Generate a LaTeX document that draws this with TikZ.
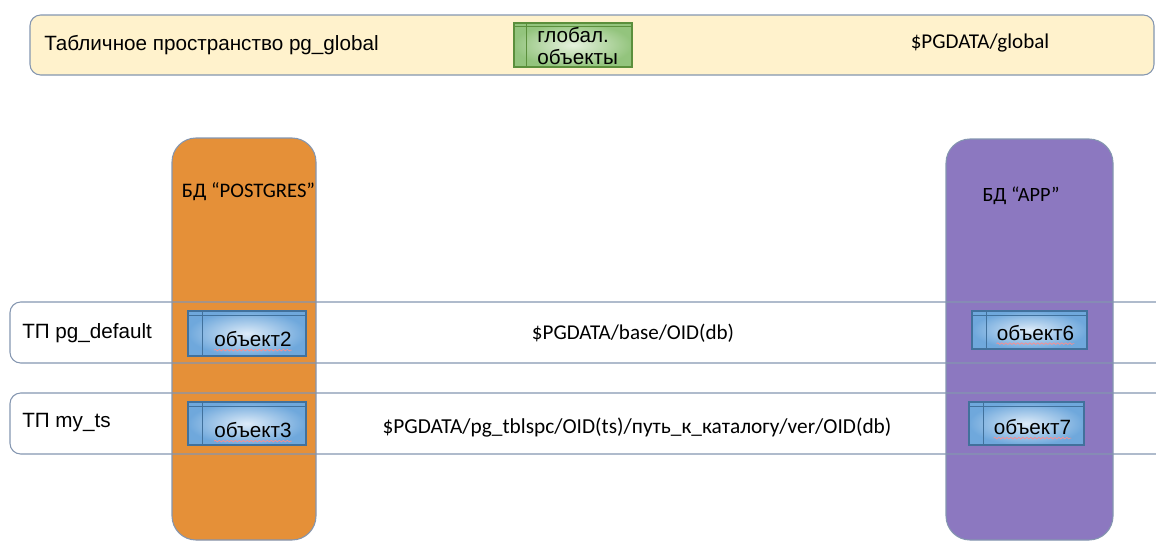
\documentclass[tikz,border=0pt]{standalone}
\usepackage{fontspec}
\setmainfont{Liberation Sans}
\newfontfamily\calfont{Carlito}
\usetikzlibrary{fit,calc,decorations.pathmorphing}

\definecolor{bandline}{HTML}{8496B0}
\definecolor{bandfill}{HTML}{FFF2CC}
\definecolor{pgorange}{HTML}{E59038}
\definecolor{apppurple}{HTML}{8C78C0}
\definecolor{objedge}{HTML}{6FA8DC}
\definecolor{objcore}{HTML}{DDEBF8}
\definecolor{objline}{HTML}{41719C}
\definecolor{gedge}{HTML}{93C47D}
\definecolor{gcore}{HTML}{E6F2DE}
\definecolor{gline}{HTML}{5B8F3C}

\tikzset{
  basebox/.style={rectangle, inner sep=0pt, line width=0.8pt},
  topband/.style={basebox, draw=bandline, fill=bandfill, rounded corners=8pt},
  rowband/.style={basebox, draw=bandline, rounded corners=8pt},
  dbcol/.style={basebox, draw=bandline, rounded corners=18pt},
  objbox/.style={basebox, draw=objline, shading=radial, inner color=objcore, outer color=objedge},
  gbox/.style={basebox, draw=gline, shading=radial, inner color=gcore, outer color=gedge},
  divline/.style={line width=0.7pt},
  arial/.style={font=\fontsize{15.5}{18}\selectfont, inner sep=0pt},
  calibri/.style={font=\calfont\fontsize{15.8}{18}\selectfont, inner sep=0pt},
  squiggle/.style={draw=red!45, line width=0.5pt,
    decorate, decoration={snake, amplitude=0.6pt, segment length=3pt}}
}

\begin{document}
\begin{tikzpicture}[x=0.75pt, y=-0.75pt]
\useasboundingbox (0,0) rectangle (1156,540);
\clip (0,0) rectangle (1156,540);

% global tablespace band
\node[topband, fit={(30,15)(1154,75)}] (global) {};
\node[arial, anchor=west] (globalname) at (44,45) {Табличное пространство pg\_global};
\node[calibri] (globalpath) at (980,43) {\$PGDATA/global};

% global objects table icon
\node[gbox, fit={(514,23)(632,67)}] (gobj) {};
\draw[gline, divline] ([xshift=13*0.75pt]gobj.north west) -- ([xshift=13*0.75pt]gobj.south west);
\draw[gline, divline] ([yshift=-4*0.75pt]gobj.north west) -- ([yshift=-4*0.75pt]gobj.north east);
\node[arial, anchor=west, align=left, font=\fontsize{15.5}{16.5}\selectfont] (gobjtext) at (537,46) {глобал.\\объекты};

% database columns
\node[dbcol, fill=pgorange, fit={(172,138)(316,540)}] (dbpg) {};
\node[dbcol, fill=apppurple, fit={(946,139)(1113,540)}] (dbapp) {};
\node[calibri, font=\calfont\fontsize{15.5}{18}\selectfont] (dbpgname) at (248.5,192) {БД “POSTGRES”};
\node[calibri, font=\calfont\fontsize{15.2}{18}\selectfont] (dbappname) at (1021,196) {БД “APP”};

% tablespace rows
\node[rowband, fit={(10,302)(1180,363)}] (tsdefault) {};
\node[rowband, fit={(10,393)(1180,454)}] (tsmy) {};
\node[arial, anchor=west] (tsdefaultname) at (22,333) {ТП pg\_default};
\node[arial, anchor=west] (tsmyname) at (22,423) {ТП my\_ts};
\node[calibri] (tsdefaultpath) at (633,333) {\$PGDATA/base/OID(db)};
\node[calibri, font=\calfont\fontsize{16}{18}\selectfont] (tsmypath) at (637,428) {\$PGDATA/pg\_tblspc/OID(ts)/путь\_к\_каталогу/ver/OID(db)};

% object table icons
\foreach \nm/\xa/\ya/\xb/\yb/\dy/\lbl in {
  o2/188/311/306/356/6/объект2,
  o3/188/402/306/445/7/объект3,
  o6/972/311/1087/349/3/объект6,
  o7/969/402/1084/445/4/объект7} {
  \node[objbox, fit={(\xa,\ya)(\xb,\yb)}] (\nm) {};
  \draw[objline, divline] ([xshift=15*0.75pt]\nm.north west) -- ([xshift=15*0.75pt]\nm.south west);
  \draw[objline, divline] ([yshift=-5*0.75pt]\nm.north west) -- ([yshift=-5*0.75pt]\nm.north east);
  \node[arial, anchor=center] (\nm text) at ($(\nm.center)+(6,\dy)$) {\lbl};
  \draw[squiggle] ([yshift=-2pt]\nm text.south west) -- ([yshift=-2pt]\nm text.south east);
}
\end{tikzpicture}
\end{document}
